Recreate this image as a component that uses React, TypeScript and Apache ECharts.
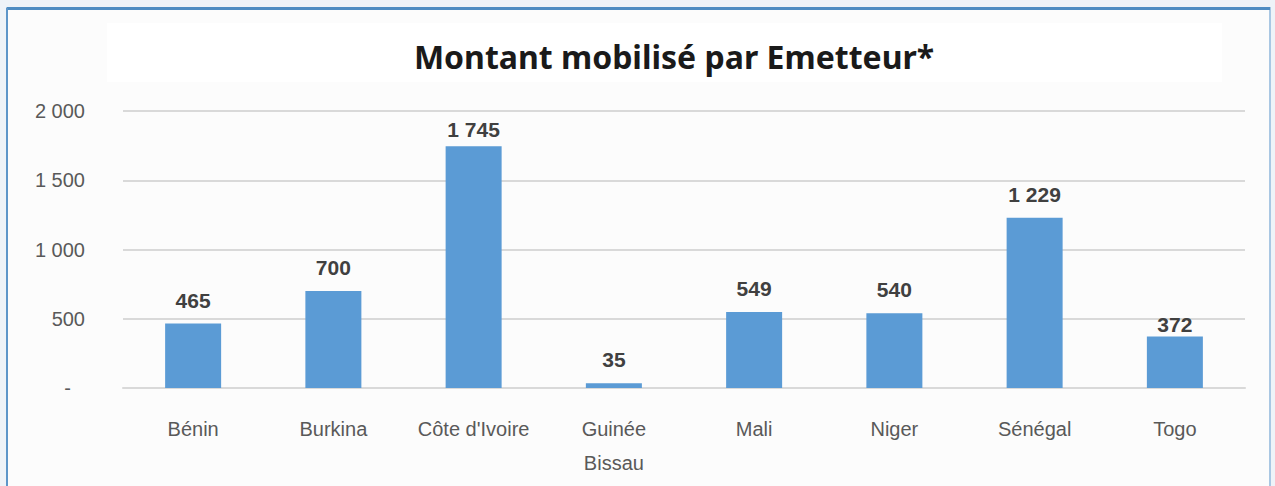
import React, { useEffect, useRef } from "react";
import * as echarts from "echarts";

const categories = ["Bénin", "Burkina", "Côte d'Ivoire", "Guinée\nBissau", "Mali", "Niger", "Sénégal", "Togo"];
const values = [465, 700, 1745, 35, 549, 540, 1229, 372];
const yTicks = [0, 500, 1000, 1500, 2000];
const title = "Montant mobilisé par Emetteur*";

const fmt = (v: number) => (v === 0 ? "-" : String(v).replace(/\B(?=(\d{3})+(?!\d))/g, " "));

export default function App() {
  const ref = useRef<HTMLDivElement>(null);
  useEffect(() => {
    if (!ref.current) return;
    const chart = echarts.init(ref.current, null, { renderer: "svg" });
    chart.setOption({
      animation: false,
      backgroundColor: "#eef3f8",
      graphic: [
        { type: "rect", shape: { x: 7, y: 8, width: 1263, height: 490 }, style: { fill: "#fcfcfc", stroke: "#a9c7e3", lineWidth: 2 }, z: -10 },
        { type: "rect", shape: { x: 7, y: 7, width: 1263, height: 3 }, style: { fill: "#4e8cc2" }, z: -9 },
        { type: "rect", shape: { x: 6, y: 8, width: 2, height: 480 }, style: { fill: "#5d96c9" }, z: -9 },
        { type: "rect", shape: { x: 107, y: 23, width: 1115, height: 59 }, style: { fill: "#ffffff" }, z: -8 },
      ],
      title: {
        text: title,
        left: 669,
        top: 35,
        textAlign: "center",
        textStyle: { fontFamily: "Noto Sans", fontWeight: "bold", fontSize: 32, color: "#1a1a1a" },
      },
      grid: { left: 123, right: 30, top: 111, bottom: 98, containLabel: false },
      xAxis: {
        type: "category",
        data: categories,
        axisLine: { show: true, lineStyle: { color: "#d9d9d9", width: 2 } },
        axisTick: { show: false },
        axisLabel: { color: "#595959", fontFamily: "Liberation Sans", fontSize: 20, margin: 24, lineHeight: 34, interval: 0 },
      },
      yAxis: {
        type: "value",
        min: 0,
        max: 2000,
        interval: 500,
        axisLine: { show: false },
        axisTick: { show: false },
        splitLine: { lineStyle: { color: "#d9d9d9", width: 2 } },
        axisLabel: {
          color: "#595959",
          fontFamily: "Liberation Sans",
          fontSize: 20,
          margin: 38,
          formatter: (v: number) => (yTicks.includes(v) ? (v === 0 ? "{d|-}" : fmt(v)) : ""),
          rich: { d: { color: "#595959", fontFamily: "Liberation Sans", fontSize: 20, padding: [0, 14, 0, 0] } },
        },
      },
      series: [
        {
          type: "bar",
          data: values.map((v, i) =>
            categories[i] === "Togo"
              ? { value: v, label: { distance: 1 } }
              : v === 1745
              ? { value: v, label: { distance: 6 } }
              : v
          ),
          barWidth: 56,
          itemStyle: { color: "#5b9bd5" },
          label: {
            show: true,
            position: "top",
            distance: 13,
            color: "#404040",
            fontFamily: "Liberation Sans",
            fontWeight: "bold",
            fontSize: 21,
            formatter: (p: any) => fmt(p.value),
          },
        },
      ],
    });
    return () => chart.dispose();
  }, []);
  return <div ref={ref} style={{ position: "absolute", left: 0, top: 0, width: 1275, height: 486 }} />;
}
